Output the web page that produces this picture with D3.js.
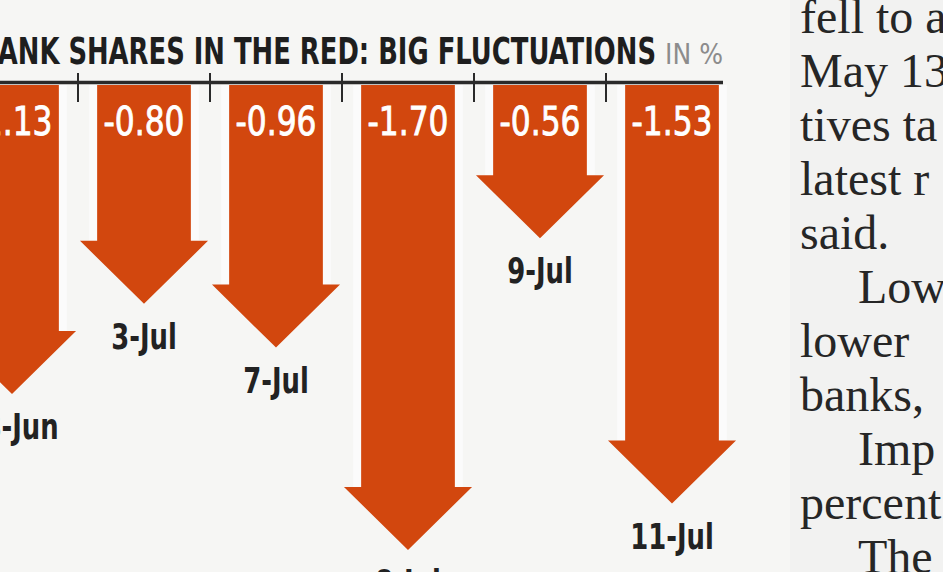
<!DOCTYPE html>
<html>
<head>
  <script src="https://cdn.jsdelivr.net/npm/d3@7"></script>
  <style>
    body { margin: 0; background: #f6f6f4; overflow: hidden; }
    svg { display: block; }
    .value { font-family: "DejaVu Sans", sans-serif; fill: #fff; stroke: #fff; stroke-width: 0.9px; }
    .date { font-family: "DejaVu Sans", sans-serif; font-weight: bold; fill: #222; }
    .body-text { font-family: "Liberation Serif", serif; font-size: 48px; fill: #262626; }
  </style>
</head>
<body>
<div id="chart"></div>
<script>
  // data read from the clipping
  var dates = ["28-Jun", "3-Jul", "7-Jul", "8-Jul", "9-Jul", "11-Jul"];
  var changes = [-1.13, -0.80, -0.96, -1.70, -0.56, -1.53];
  var titleText = "BANK SHARES IN THE RED: BIG FLUCTUATIONS";
  var unitText = "IN %";
  // the neighbouring newspaper column (cut by the photo)
  var columnLines = ["fell to a", "May 13", "tives ta", "latest r", "said.", "Low", "lower", "banks,", "Imp", "percent", "The"];
  var columnIndent = [false, false, false, false, false, true, false, false, true, false, true];

  var width = 943, height = 572;
  var arrowColor = "#d2470e";

  var svg = d3.select("#chart").append("svg")
    .attr("width", width)
    .attr("height", height);

  svg.append("rect")
    .attr("width", width).attr("height", height)
    .attr("fill", "#f6f6f4");

  var x = d3.scaleBand()
    .domain(dates)
    .range([-54, 738]);

  var y = d3.scaleLinear()
    .domain([0, -1.70])
    .range([85, 550]);

  var step = x.step();
  var shaftHalf = step * 0.355;
  var headHalf = step * 0.485;
  var headLen = 63;

  function cx(i) { return x(dates[i]) + x.bandwidth() / 2; }

  // squeeze a text horizontally so it spans w pixels (condensed newspaper face)
  function squeeze(sel, px, py, w, anchor) {
    sel.each(function(d, i) {
      var t = d3.select(this);
      var natural = this.getComputedTextLength();
      var tx = typeof px === "function" ? px(d, i) : px;
      var ty = typeof py === "function" ? py(d, i) : py;
      var tw = typeof w === "function" ? w(d, i, natural) : w;
      t.attr("text-anchor", anchor)
        .attr("transform", "translate(" + tx + "," + ty + ") scale(" + (tw / natural) + ",1)");
    });
  }

  function arrowPath(d, i) {
    var c = cx(i);
    var top = y(0), tip = y(d);
    var p = d3.path();
    p.moveTo(c - shaftHalf, top);
    p.lineTo(c + shaftHalf, top);
    p.lineTo(c + shaftHalf, tip - headLen);
    p.lineTo(c + headHalf, tip - headLen);
    p.lineTo(c, tip);
    p.lineTo(c - headHalf, tip - headLen);
    p.lineTo(c - shaftHalf, tip - headLen);
    p.closePath();
    return p.toString();
  }

  // faint white halo round each shaft, like the print
  svg.selectAll(".halo")
    .data(changes)
    .enter().append("rect")
    .attr("class", "halo")
    .attr("x", function(d, i) { return cx(i) - shaftHalf - 8; })
    .attr("y", y(0))
    .attr("width", shaftHalf * 2 + 16)
    .attr("height", function(d) { return y(d) - headLen - y(0); })
    .attr("fill", "#fbfbfb");

  svg.selectAll(".arrow")
    .data(changes)
    .enter().append("path")
    .attr("class", "arrow")
    .attr("d", arrowPath)
    .attr("fill", arrowColor);

  // axis line with ticks between the arrows
  svg.append("line")
    .attr("x1", 0).attr("x2", 723)
    .attr("y1", 82.5).attr("y2", 82.5)
    .attr("stroke", "#2a2a2a")
    .attr("stroke-width", 3.5);

  svg.selectAll(".tick")
    .data(dates.slice(1))
    .enter().append("line")
    .attr("class", "tick")
    .attr("x1", function(d) { return x(d); })
    .attr("x2", function(d) { return x(d); })
    .attr("y1", 73).attr("y2", 102)
    .attr("stroke", "#2a2a2a")
    .attr("stroke-width", 2);

  // values in the shafts
  svg.selectAll(".value")
    .data(changes)
    .enter().append("text")
    .attr("class", "value")
    .attr("font-size", 39)
    .text(function(d) { return d.toFixed(2); })
    .call(squeeze, function(d, i) { return cx(i); }, 135, 81, "middle");

  // date under each arrow tip
  svg.selectAll(".date")
    .data(changes)
    .enter().append("text")
    .attr("class", "date")
    .attr("font-size", 35)
    .text(function(d, i) { return dates[i]; })
    .call(squeeze, function(d, i) { return cx(i); }, function(d) { return y(d) + 45; },
      function(d, i, natural) { return natural * 0.74; }, "middle");

  // title
  svg.append("text")
    .attr("font-family", "DejaVu Sans, sans-serif")
    .attr("font-weight", "bold")
    .attr("font-size", 37)
    .attr("fill", "#1e1e1e")
    .text(titleText)
    .call(squeeze, 656, 64, 678, "end");

  svg.append("text")
    .attr("font-family", "DejaVu Sans, sans-serif")
    .attr("font-size", 28)
    .attr("fill", "#8c8c8c")
    .text(unitText)
    .call(squeeze, 665, 64, 58, "start");

  // newspaper column on the right
  svg.append("rect")
    .attr("x", 790).attr("y", 0)
    .attr("width", width - 790).attr("height", height)
    .attr("fill", "#f2f2f1");

  svg.selectAll(".body-text")
    .data(columnLines)
    .enter().append("text")
    .attr("class", "body-text")
    .attr("x", function(d, i) { return columnIndent[i] ? 858 : 800; })
    .attr("y", function(d, i) { return 33 + i * 54; })
    .text(function(d) { return d; });
</script>
</body>
</html>
